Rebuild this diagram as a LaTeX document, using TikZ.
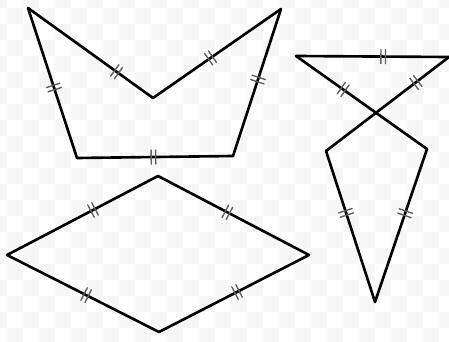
\documentclass[tikz,border=0pt]{standalone}
\usetikzlibrary{decorations.markings}
\tikzset{
  edge/.style={line width=1.5pt, line cap=round, line join=round},
  tickline/.style={gray!75!black, line width=0.8pt},
  dtick/.style={postaction={decorate,decoration={markings,
      mark=at position #1 with {\draw[tickline] (-1.3pt,-4pt) -- (-1.3pt,4pt) (1.3pt,-4pt) -- (1.3pt,4pt);}}}}
}
\begin{document}
\begin{tikzpicture}[x=0.02cm,y=-0.02cm]
        \useasboundingbox (0,0) rectangle (449,341);
        % checkered background
        \begin{scope}
            \clip (0,0) rectangle (449,341);
            \foreach \i in {-1,...,14} {
                \foreach \j in {-1,...,11} {
                    \fill[gray!7] (\i*32+7,\j*32+8) rectangle +(16,16);
                    \fill[gray!7] (\i*32+23,\j*32+24) rectangle +(16,16);
                }
            }
        \end{scope}
        % concave pentagon
        \coordinate (tl) at (28,8);
        \coordinate (notch) at (153,98);
        \coordinate (tr) at (281,9);
        \coordinate (br) at (233,156);
        \coordinate (bl) at (77,158);
        \draw[edge,dtick=0.71] (tl) -- (notch);
        \draw[edge,dtick=0.45] (notch) -- (tr);
        \draw[edge,dtick=0.48] (tr) -- (br);
        \draw[edge,dtick=0.51] (br) -- (bl);
        \draw[edge,dtick=0.47] (bl) -- (tl);
        % crossed triangle and kite
        \coordinate (ka) at (296,56);
        \coordinate (kb) at (449,57);
        \coordinate (kl) at (326,151);
        \coordinate (kr) at (427,149);
        \coordinate (kbot) at (375,302);
        \draw[edge,dtick=0.57] (ka) -- (kb);
        \draw[edge,dtick=0.36] (ka) -- (kr);
        \draw[edge,dtick=0.27] (kb) -- (kl);
        \draw[edge,dtick=0.41] (kl) -- (kbot);
        \draw[edge,dtick=0.42] (kr) -- (kbot);
        % rhombus
        \coordinate (rl) at (7,255);
        \coordinate (rt) at (158,176);
        \coordinate (rr) at (309,255);
        \coordinate (rb) at (159,332);
        \draw[edge,dtick=0.57] (rl) -- (rt);
        \draw[edge,dtick=0.46] (rt) -- (rr);
        \draw[edge,dtick=0.48] (rr) -- (rb);
        \draw[edge,dtick=0.48] (rb) -- (rl);
    \end{tikzpicture}
\end{document}
